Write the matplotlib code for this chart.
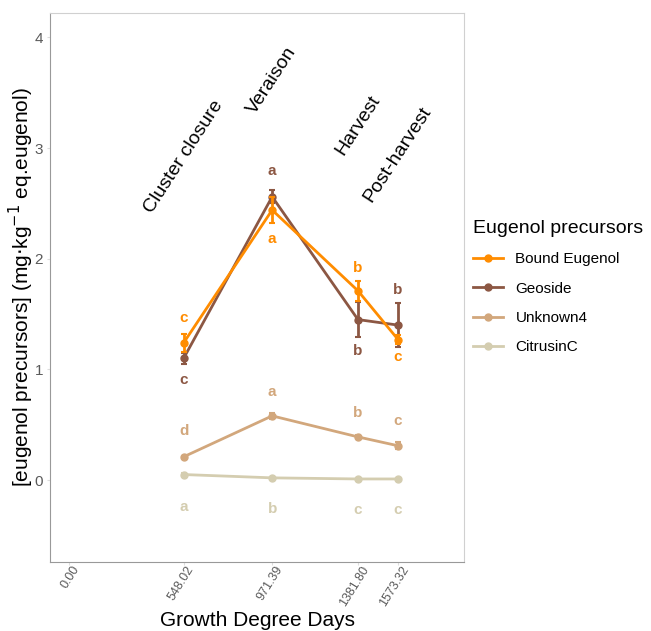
import matplotlib.pyplot as plt
from matplotlib.transforms import ScaledTranslation

plt.rcParams['font.family'] = ['Liberation Sans', 'DejaVu Sans']

gdd = [548.02, 971.39, 1381.80, 1573.32]
tick_pos = [0.0, 548.02, 971.39, 1381.80, 1573.32]
tick_labels = ['0.00', '548.02', '971.39', '1381.80', '1573.32']
stages = ['Cluster closure', 'Veraison', 'Harvest', 'Post-harvest']
stage_y = [2.92, 3.61, 3.21, 2.94]

names = ['Bound Eugenol', 'Geoside', 'Unknown4', 'CitrusinC']
colors = ['#FF8C00', '#8C5743', '#D2A77C', '#D4CDB0']

bound_mean = [1.24, 2.44, 1.71, 1.27]
bound_err = [0.08, 0.12, 0.09, 0.04]
geoside_mean = [1.10, 2.56, 1.45, 1.40]
geoside_err = [0.05, 0.06, 0.16, 0.20]
unknown4_mean = [0.21, 0.58, 0.39, 0.31]
unknown4_err = [0.01, 0.03, 0.02, 0.03]
citrusin_mean = [0.05, 0.02, 0.01, 0.01]
citrusin_err = [0.01, 0.01, 0.01, 0.01]

bound_letters = ['c', 'a', 'b', 'c']
bound_letter_y = [1.46, 2.18, 1.92, 1.11]
geoside_letters = ['c', 'a', 'b', 'b']
geoside_letter_y = [0.90, 2.79, 1.17, 1.72]
unknown4_letters = ['d', 'a', 'b', 'c']
unknown4_letter_y = [0.44, 0.80, 0.61, 0.53]
citrusin_letters = ['a', 'b', 'c', 'c']
citrusin_letter_y = [-0.24, -0.26, -0.27, -0.27]

means = [bound_mean, geoside_mean, unknown4_mean, citrusin_mean]
errs = [bound_err, geoside_err, unknown4_err, citrusin_err]
letters = [bound_letters, geoside_letters, unknown4_letters, citrusin_letters]
letter_ys = [bound_letter_y, geoside_letter_y, unknown4_letter_y, citrusin_letter_y]

fig = plt.figure(figsize=(6.51, 6.31), dpi=100)
ax = fig.add_axes([0.0768, 0.1094, 0.636, 0.870])

# draw back to front so orange ends on top
for i in [3, 2, 1, 0]:
    ax.errorbar(gdd, means[i], yerr=errs[i], color=colors[i], lw=2,
                marker='o', ms=5, capsize=2.5, elinewidth=2, capthick=1.5,
                label=names[i], zorder=3 + (3 - i))
    for x, y, t in zip(gdd, letter_ys[i], letters[i]):
        ax.text(x, y, t, color=colors[i], fontsize=11, fontweight='bold',
                ha='center', va='center')

for x, y, s in zip(gdd, stage_y, stages):
    ax.text(x, y, s, rotation=57, fontsize=14, ha='center', va='center',
            rotation_mode='anchor', color='black')

ax.set_xlim(-91, 1889)
ax.set_ylim(-0.74, 4.22)
ax.set_xticks(tick_pos)
ax.set_xticklabels(tick_labels, rotation=58, ha='right', va='center',
                   rotation_mode='anchor')
ax.set_yticks([0, 1, 2, 3, 4])
ax.tick_params(colors='#DDDDDD', labelcolor='#5A5A5A', length=2)
ax.tick_params(axis='x', labelsize=9, pad=1.5)
ax.tick_params(axis='y', labelsize=11, pad=3)
shift = ScaledTranslation(0.08, 0, fig.dpi_scale_trans)
for lab in ax.get_xticklabels():
    lab.set_transform(lab.get_transform() + shift)

for side in ['top', 'right']:
    ax.spines[side].set_color('#D0D0D0')
for side in ['left', 'bottom']:
    ax.spines[side].set_color('#999999')

# x label placed by hand just above the bottom edge
fig.text(0.395, 0.008, 'Growth Degree Days', fontsize=15, ha='center', va='baseline')
ax.set_ylabel('[eugenol precursors] (mg$\\cdot$kg$^{-1}$ eq.eugenol)', fontsize=15,
              labelpad=-1)

handles, labs = ax.get_legend_handles_labels()
order = [labs.index(n) for n in names]
handles = [handles[k][0] for k in order]
leg = fig.legend(handles, names, title='Eugenol precursors',
                 loc='upper left', bbox_to_anchor=(0.705, 0.673),
                 frameon=False, fontsize=11, title_fontsize=14,
                 handlelength=2.0, labelspacing=1.0, alignment='left')

plt.savefig('out.png', dpi=100)
